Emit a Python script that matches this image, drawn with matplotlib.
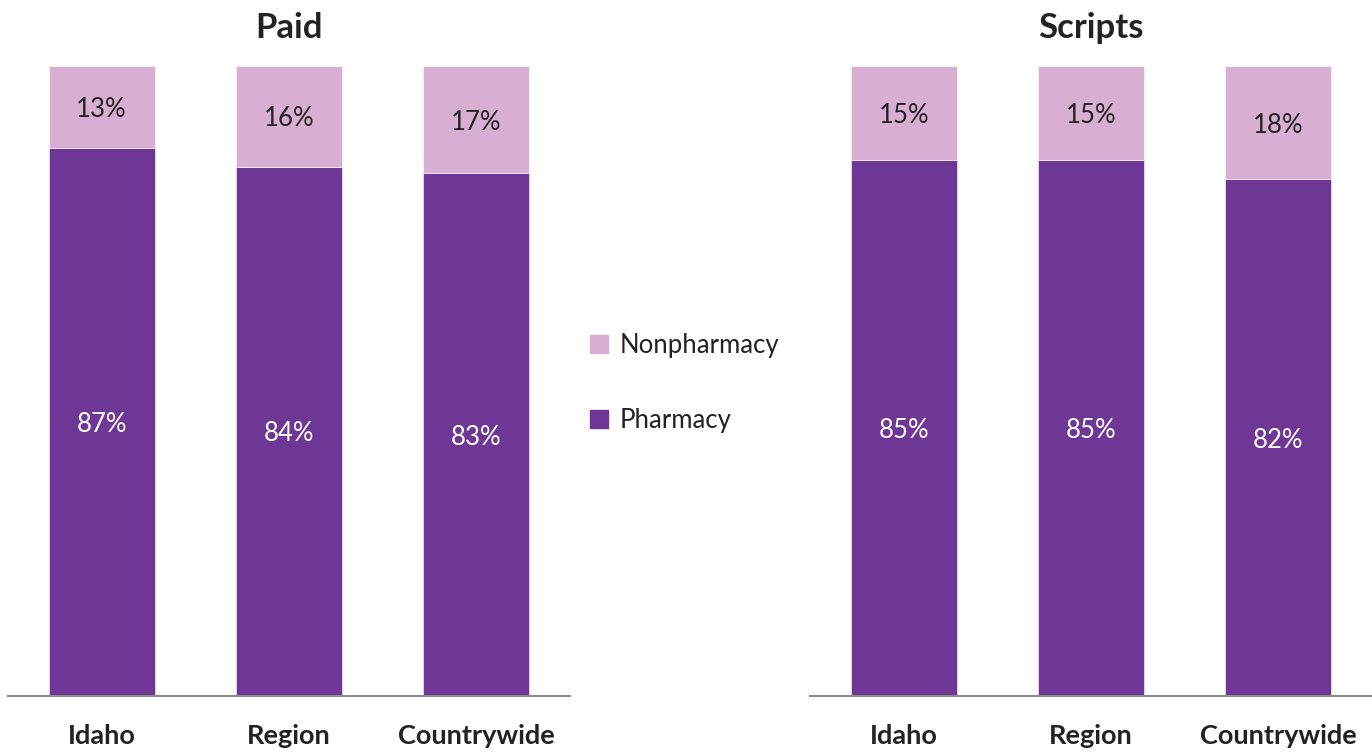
import matplotlib.pyplot as plt
from matplotlib.patches import Patch
import numpy as np

# data
categories = ["Idaho", "Region", "Countrywide"]
panels = ["Paid", "Scripts"]
pharmacy = {"Paid": [87, 84, 83], "Scripts": [85, 85, 82]}
nonpharmacy = {"Paid": [13, 16, 17], "Scripts": [15, 15, 18]}

DARK = '#6E3795'
LIGHT = '#D8AFD3'

plt.rcParams['font.family'] = ['Lato', 'DejaVu Sans']

fig = plt.figure(figsize=(13.72, 7.53), dpi=100)
ax_left = fig.add_axes([0.0058, 0.0757, 0.4096, 0.8367])
ax_right = fig.add_axes([0.5904, 0.0757, 0.4096, 0.8367])

x = np.arange(len(categories))
width = 0.565

for ax, name in zip([ax_left, ax_right], panels):
    ph = pharmacy[name]
    nph = nonpharmacy[name]
    ax.bar(x, ph, width, color=DARK, edgecolor='white', linewidth=0.4)
    ax.bar(x, nph, width, bottom=ph, color=LIGHT, edgecolor='white', linewidth=0.4)

    # value labels in the middle of each segment
    for i in range(len(categories)):
        ax.text(x[i], ph[i] / 2, f"{ph[i]}%", ha='center', va='center_baseline',
                color='white', fontsize=18.5)
        ax.text(x[i], ph[i] + nph[i] / 2, f"{nph[i]}%", ha='center',
                va='center_baseline', color='#222222', fontsize=18.5)

    ax.set_xlim(-0.5, 2.5)
    ax.set_ylim(0, 100)
    ax.set_xticks(x)
    ax.set_xticklabels(categories, fontsize=19.5, fontweight='bold', color='#222222')
    ax.set_yticks([])
    ax.tick_params(axis='x', length=0, pad=20)

    for s in ['top', 'right', 'left']:
        ax.spines[s].set_visible(False)
    ax.spines['bottom'].set_color('#8c8c8c')
    ax.spines['bottom'].set_linewidth(1.5)

    ax.set_title(name, fontsize=25, fontweight='bold', color='#222222', pad=20)

# legend between the two panels
handles = [Patch(color=LIGHT, label='Nonpharmacy'), Patch(color=DARK, label='Pharmacy')]
fig.legend(handles=handles, loc='center left', bbox_to_anchor=(0.413, 0.491),
           frameon=False, fontsize=18.5, handlelength=0.7, handleheight=0.7,
           handletextpad=0.45, labelspacing=1.95, labelcolor='#222222')

plt.savefig("out.png", dpi=100)
